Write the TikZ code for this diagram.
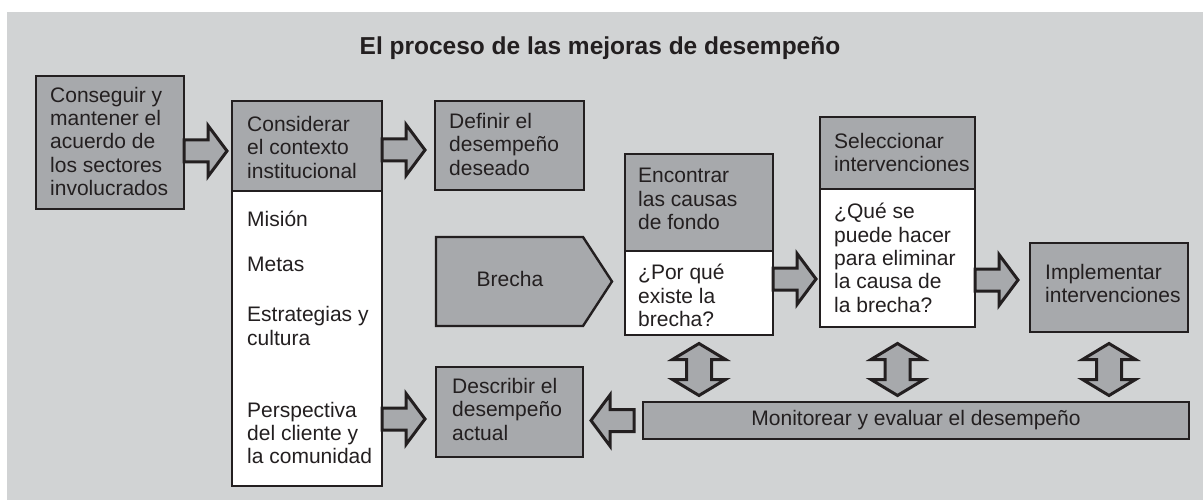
\documentclass[tikz,border=0pt]{standalone}
\usepackage{fontspec}
\setmainfont{Liberation Sans}
\usetikzlibrary{positioning,calc}

\definecolor{panel}{HTML}{D1D3D4}
\definecolor{boxgray}{HTML}{A7A9AC}
\definecolor{ink}{HTML}{231F20}
\newcommand\bodyf{\fontsize{21}{23.3}\selectfont}
\newcommand\titlef{\fontsize{24.5}{28}\selectfont\bfseries}

\tikzset{
  box/.style={draw=ink, line width=2.4pt, fill=boxgray, anchor=north west,
    inner sep=0pt, outer sep=0pt},
  qbox/.style={box, fill=white},
  txt/.style={font=\bodyf, text=ink, align=left, inner sep=0pt,
    execute at begin node=\strut},
  fat/.style={draw=ink, line width=3pt, fill=boxgray},
  fat arrow/.pic={
    \path[fat] (0,-11) -- (24,-11) -- (24,-25.5) -- (43,0) -- (24,25.5)
      -- (24,11) -- (0,11) -- cycle;},
  twin arrow/.pic={
    \path[fat] (0,-26) -- (26.5,-10) -- (12.5,-10) -- (12.5,10) -- (26.5,10)
      -- (0,26) -- (-26.5,10) -- (-12.5,10) -- (-12.5,-10) -- (-26.5,-10) -- cycle;}
}

\begin{document}
\begin{tikzpicture}[x=1pt, y=-1pt]
  \useasboundingbox (0,0) rectangle (1203,500);
  \fill[panel] (7,12) rectangle (1203,500);

  \node[font=\titlef, text=ink] (title) at (600,48) {El proceso de las mejoras de desempeño};

  % boxes
  \node[box, minimum width=148pt, minimum height=133pt] (b1) at (36,76) {};
  \node[box, minimum width=150pt, minimum height=90pt] (b2) at (232,101) {};
  \node[qbox, minimum width=150pt, minimum height=295pt] (w2) at (232,191) {};
  \node[box, minimum width=149pt, minimum height=89pt] (b3) at (435,101) {};
  \node[box, minimum width=148pt, minimum height=97pt] (b4) at (625,154) {};
  \node[qbox, minimum width=148pt, minimum height=84pt] (w4) at (625,251) {};
  \node[box, minimum width=155pt, minimum height=72pt] (b5) at (820,117) {};
  \node[qbox, minimum width=155pt, minimum height=138pt] (w5) at (820,189) {};
  \node[box, minimum width=158pt, minimum height=89pt] (b6) at (1030,243) {};
  \node[box, minimum width=147pt, minimum height=90pt] (b7) at (436,367) {};
  \node[box, minimum width=546pt, minimum height=37pt, font=\bodyf, text=ink] (bar) at (643,402)
    {Monitorear y evaluar el desempeño};
  \draw[fat, line width=2.4pt] (436,237) -- (583,237) -- (612,281.5) -- (583,326) -- (436,326) -- cycle;
  \node[txt] (gap) at (510,282) {Brecha};

  % texts
  \node[txt, below right=10.7pt and 14pt of b1.north west] (t1)
    {Conseguir y\\mantener el\\acuerdo de\\los sectores\\involucrados};
  \node[txt, below right=15.2pt and 15pt of b2.north west] (t2)
    {Considerar\\el contexto\\institucional};
  \node[txt, below right=20.2pt and 15pt of w2.north west] (q2)
    {Misión\\[21.7pt]Metas\\[26.7pt]Estrategias y\\cultura\\[48.7pt]Perspectiva\\del cliente y\\la comunidad};
  \node[txt, below right=12.2pt and 14pt of b3.north west] (t3)
    {Definir el\\desempeño\\deseado};
  \node[txt, below right=14.2pt and 13pt of b4.north west] (t4)
    {Encontrar\\las causas\\de fondo};
  \node[txt, below right=13.2pt and 13pt of w4.north west] (q4)
    {¿Por qué\\existe la\\brecha?};
  \node[txt, below right=16.2pt and 14pt of b5.north west] (t5)
    {Seleccionar\\intervenciones};
  \node[txt, below right=14.2pt and 14pt of w5.north west] (q5)
    {¿Qué se\\puede hacer\\para eliminar\\la causa de\\la brecha?};
  \node[txt, below right=21.2pt and 15pt of b6.north west] (t6)
    {Implementar\\intervenciones};
  \node[txt, below right=11.2pt and 16pt of b7.north west] (t7)
    {Describir el\\desempeño\\actual};

  % arrows
  \pic at ($(b1.east)+(0,8.5)$) {fat arrow};
  \pic at ($(b2.east)+(0,4)$) {fat arrow};
  \pic at ($(w4.east)+(0,-14)$) {fat arrow};
  \pic at ($(w5.east)+(0,22)$) {fat arrow};
  \pic at ($(w2.east)+(0,80.5)$) {fat arrow};
  \pic[rotate=180] at ($(bar.west)+(-9,0)$) {fat arrow};
  \foreach \src in {w4,w5,b6}
    \pic at ($(\src.south |- bar.north)+(0,-32.5)$) {twin arrow};
\end{tikzpicture}
\end{document}
